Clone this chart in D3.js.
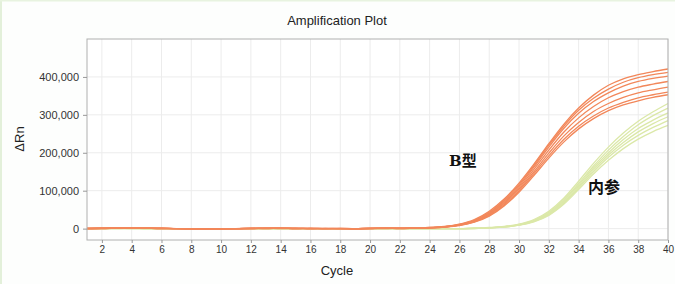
<!DOCTYPE html>
<html>
<head>
<meta charset="utf-8">
<script src="https://cdn.jsdelivr.net/npm/d3@7"></script>
<style>
  body { margin: 0; background: #fdfefd; }
  svg { display: block; }
</style>
</head>
<body>
<div id="chart"></div>
<script>
// cycles 1..40
var cycles = d3.range(1, 41);

// B type (orange) curves, delta Rn in thousands, one value per cycle
var bType1 = [0,1,2,2,1,0,0,-1,-1,0,0,1,1,1,0,0,1,0,0,1,1,1, 2,3,6,12,24,46,78,120,170,224,275,318,352,378,395,406,414,421];
var bType2 = [0,1,1,2,1,1,0,0,-1,-1,0,0,1,1,1,0,0,0,-1,0,1,1, 2,3,5,11,22,43,75,116,166,220,270,312,344,368,386,398,406,412];
var bType3 = [1,1,2,2,1,0,0,0,-1,0,0,0,1,1,0,0,0,0,0,1,1,1, 1,2,5,10,21,41,72,112,162,215,264,304,335,358,376,388,396,402];
var bType4 = [0,0,1,1,1,1,0,-1,-1,-1,0,1,1,0,0,1,0,0,-1,0,1,0, 1,2,5,10,20,39,69,108,156,207,254,292,322,345,361,373,381,388];
var bType5 = [0,1,1,2,2,1,0,0,0,-1,0,0,0,1,1,0,0,1,0,0,0,1, 1,2,4,9,19,37,66,104,150,199,244,280,309,330,346,358,366,373];
var bType6 = [1,0,1,2,1,0,0,-1,0,0,-1,0,1,1,1,0,0,0,0,1,1,1, 1,2,4,9,18,35,63,100,145,192,235,270,297,318,333,345,353,360];
var bType7 = [0,1,2,1,1,1,0,0,-1,0,0,1,0,1,0,1,0,0,0,0,1,0, 1,2,4,8,17,33,60,96,140,186,228,263,290,311,326,337,346,353];

// internal control (green) curves
var ctrl1 = [0,1,1,1,0,0,0,0,0,0,0,0,0,0,0,0,0,0,0,0,0,0,0,0,0,0, 1,3,6,12,24,46,80,125,172,215,252,283,308,330];
var ctrl2 = [0,0,1,1,0,0,0,-1,0,0,0,0,0,0,0,0,0,0,0,0,0,0,0,0,0,0, 1,2,5,11,22,43,76,119,165,207,243,274,298,318];
var ctrl3 = [0,0,1,0,0,0,0,0,0,-1,0,0,0,0,0,0,0,0,0,0,0,0,0,0,0,0, 1,2,5,10,21,41,73,115,160,200,235,264,286,305];
var ctrl4 = [0,0,0,1,0,0,0,0,0,0,0,0,0,0,0,0,0,0,0,0,0,0,0,0,0,0, 1,2,5,10,20,39,70,111,155,194,227,255,277,295];
var ctrl5 = [0,0,0,0,0,0,0,0,0,0,0,0,0,0,0,0,0,0,0,0,0,0,0,0,0,0, 0,2,4,9,19,37,67,107,150,188,220,246,267,285];
var ctrl6 = [0,0,0,0,0,0,0,0,0,0,0,0,0,0,0,0,0,0,0,0,0,0,0,0,0,0, 0,2,4,9,18,35,64,103,144,180,211,236,256,272];

var bTypeSeries = [bType1, bType2, bType3, bType4, bType5, bType6, bType7];
var ctrlSeries = [ctrl1, ctrl2, ctrl3, ctrl4, ctrl5, ctrl6];

var xTicks = d3.range(2, 41, 2);
var yTicks = [0, 100000, 200000, 300000, 400000];

var W = 675, H = 284;
var margin = {top: 39, right: 7, bottom: 44, left: 87};
var width = W - margin.left - margin.right,
    height = H - margin.top - margin.bottom;

var svg = d3.select("#chart").append("svg")
    .attr("width", W)
    .attr("height", H)
    .style("font-family", "Liberation Sans, Arial, sans-serif");

// faint green frame of the screenshot
svg.append("rect").attr("x", 0).attr("y", 0).attr("width", 2).attr("height", H).attr("fill", "#e3f0da");
svg.append("rect").attr("x", 0).attr("y", 0).attr("width", W).attr("height", 1.5).attr("fill", "#e8f3e0");

var g = svg.append("g")
    .attr("transform", "translate(" + margin.left + "," + margin.top + ")");

var x = d3.scaleLinear().domain([1, 40]).range([0, width]);
var y = d3.scaleLinear().domain([-30000, 500000]).range([height, 0]);

g.append("rect")
    .attr("width", width).attr("height", height)
    .attr("fill", "#ffffff");

// grid
g.append("g").selectAll("line").data(xTicks).enter().append("line")
    .attr("x1", function(d) { return x(d); }).attr("x2", function(d) { return x(d); })
    .attr("y1", 0).attr("y2", height)
    .attr("stroke", "#ececec").attr("stroke-width", 1);
g.append("g").selectAll("line").data(yTicks).enter().append("line")
    .attr("x1", 0).attr("x2", width)
    .attr("y1", function(d) { return y(d); }).attr("y2", function(d) { return y(d); })
    .attr("stroke", "#ececec").attr("stroke-width", 1);

var line = d3.line()
    .x(function(d, i) { return x(cycles[i]); })
    .y(function(d) { return y(d * 1000); })
    .curve(d3.curveMonotoneX);

g.append("g").selectAll("path").data(ctrlSeries).enter().append("path")
    .attr("d", line)
    .attr("fill", "none")
    .attr("stroke", "#dbe8a8")
    .attr("stroke-width", 1.3);

g.append("g").selectAll("path").data(bTypeSeries).enter().append("path")
    .attr("d", line)
    .attr("fill", "none")
    .attr("stroke", "#f2875a")
    .attr("stroke-width", 1.3);

// frame
g.append("rect")
    .attr("width", width).attr("height", height)
    .attr("fill", "none").attr("stroke", "#b0b0b0");

// axes
var xAxis = g.append("g")
    .attr("transform", "translate(0," + height + ")")
    .call(d3.axisBottom(x).tickValues(xTicks).tickSize(3).tickPadding(3));
var yAxis = g.append("g")
    .call(d3.axisLeft(y).tickValues(yTicks).tickFormat(d3.format(",")).tickSize(4).tickPadding(4));
[xAxis, yAxis].forEach(function(a) {
  a.select(".domain").remove();
  a.selectAll("line").attr("stroke", "#999");
  a.selectAll("text").attr("fill", "#333").style("font-size", "11px");
});
xAxis.selectAll("text").style("font-size", "10px");

// titles
svg.append("text")
    .attr("x", 337).attr("y", 25)
    .attr("text-anchor", "middle")
    .attr("fill", "#222")
    .style("font-size", "13px")
    .text("Amplification Plot");

svg.append("text")
    .attr("x", 337).attr("y", 275)
    .attr("text-anchor", "middle")
    .attr("fill", "#222")
    .style("font-size", "13px")
    .text("Cycle");

svg.append("text")
    .attr("transform", "translate(24,139) rotate(-90)")
    .attr("text-anchor", "middle")
    .attr("fill", "#222")
    .style("font-size", "13px")
    .text("ΔRn");

// series labels
svg.append("text")
    .attr("x", 449).attr("y", 166)
    .attr("fill", "#111")
    .style("font-family", "DejaVu Serif, Noto Sans CJK SC, serif")
    .style("font-weight", "bold")
    .style("font-size", "15px")
    .text("B型");

svg.append("text")
    .attr("x", 588).attr("y", 193)
    .attr("fill", "#111")
    .style("font-family", "Noto Sans CJK SC, sans-serif")
    .style("font-weight", "bold")
    .style("font-size", "16px")
    .text("内参");
</script>
</body>
</html>
